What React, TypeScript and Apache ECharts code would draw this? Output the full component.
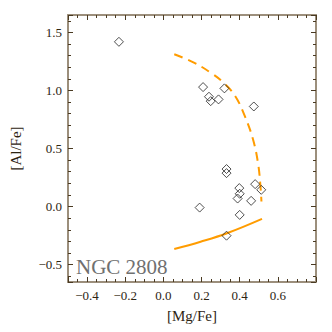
import React, { useEffect, useRef } from "react";
import * as echarts from "echarts";

const starMg = [-0.233, 0.208, 0.32, 0.239, 0.248, 0.289, 0.474, 0.331, 0.331, 0.398, 0.4, 0.389, 0.481, 0.513, 0.46, 0.19, 0.4, 0.331];
const starAl = [1.419, 1.029, 1.018, 0.946, 0.908, 0.923, 0.862, 0.323, 0.288, 0.159, 0.11, 0.069, 0.193, 0.144, 0.049, -0.009, -0.072, -0.251];

const dashedMg = [0.057, 0.16, 0.247, 0.315, 0.376, 0.427, 0.47, 0.496, 0.509, 0.514];
const dashedAl = [1.312, 1.24, 1.154, 1.067, 0.952, 0.779, 0.577, 0.375, 0.173, 0.043];

const solidMg = [0.057, 0.195, 0.333, 0.517];
const solidAl = [-0.366, -0.303, -0.23, -0.106];

const xLabels = ["-0.4", "-0.2", "0.0", "0.2", "0.4", "0.6"];
const yLabels = ["-0.5", "0.0", "0.5", "1.0", "1.5"];

const FRAME = "#9c8f7c";
const TICK = "#4a3a22";
const TEXT = "#2e2412";
const ORANGE = "#ff9c00";
const FONT = "'Liberation Serif', 'DejaVu Serif', serif";

export default function App() {
  const ref = useRef<HTMLDivElement>(null);
  useEffect(() => {
    if (!ref.current) return;
    const chart = echarts.init(ref.current, null, { renderer: "svg" });
    const fmt = (labels: string[]) => (v: number) => {
      const s = v.toFixed(1).replace("-0.0", "0.0");
      const ok = labels.includes(s) && Math.abs(v - parseFloat(s)) < 1e-6;
      return ok ? s.replace("-", "\u2212") : "";
    };
    const baseX = {
      type: "value" as const,
      min: -0.5,
      max: 0.8,
      splitNumber: 6,
      axisLine: { show: true, onZero: false, lineStyle: { color: FRAME, width: 2 } },
      axisTick: { show: true, inside: true, length: 5, lineStyle: { color: TICK, width: 1 } },
      minorTick: { show: true, splitNumber: 4, length: 3, lineStyle: { color: TICK, width: 1 } },
      splitLine: { show: false },
    };
    const baseY = {
      type: "value" as const,
      min: -0.65,
      max: 1.65,
      splitNumber: 5,
      axisLine: { show: true, onZero: false, lineStyle: { color: FRAME, width: 2 } },
      axisTick: { show: true, inside: true, length: 5, lineStyle: { color: TICK, width: 1 } },
      minorTick: { show: true, splitNumber: 5, length: 3, lineStyle: { color: TICK, width: 1 } },
      splitLine: { show: false },
    };
    chart.setOption({
      animation: false,
      backgroundColor: "#ffffff",
      grid: { left: 67, right: 16, top: 15, bottom: 50, containLabel: false },
      xAxis: [
        {
          ...baseX,
          position: "bottom",
          name: "[Mg/Fe]",
          nameLocation: "middle",
          nameGap: 26,
          nameTextStyle: { color: TEXT, fontFamily: FONT, fontSize: 15 },
          axisLabel: { show: true, color: TEXT, fontFamily: FONT, fontSize: 13, margin: 7, formatter: fmt(xLabels), showMinLabel: true, showMaxLabel: true },
        },
        { ...baseX, position: "top", axisLabel: { show: false } },
      ],
      yAxis: [
        {
          ...baseY,
          position: "left",
          name: "[Al/Fe]",
          nameLocation: "middle",
          nameGap: 45,
          nameTextStyle: { color: TEXT, fontFamily: FONT, fontSize: 15 },
          axisLabel: { show: true, color: TEXT, fontFamily: FONT, fontSize: 13, margin: 6, formatter: fmt(yLabels), showMinLabel: true, showMaxLabel: true },
        },
        { ...baseY, position: "right", axisLabel: { show: false } },
      ],
      graphic: [
        {
          type: "text",
          left: 76,
          top: 256,
          style: { text: "NGC 2808", fill: "#707070", font: `21px ${FONT}` },
        },
      ],
      series: [
        {
          type: "line",
          data: dashedMg.map((x, i) => [x, dashedAl[i]]),
          smooth: 0.4,
          showSymbol: false,
          lineStyle: { color: ORANGE, width: 2, type: [9, 6] },
          z: 2,
        },
        {
          type: "line",
          data: solidMg.map((x, i) => [x, solidAl[i]]),
          smooth: 0.4,
          showSymbol: false,
          lineStyle: { color: ORANGE, width: 2 },
          z: 2,
        },
        {
          type: "scatter",
          data: starMg.map((x, i) => [x, starAl[i]]),
          symbol: "diamond",
          symbolSize: 9,
          itemStyle: { color: "rgba(255,255,255,0)", borderColor: "#222222", borderWidth: 1 },
          z: 3,
        },
      ],
    });
    return () => chart.dispose();
  }, []);
  return <div ref={ref} style={{ width: 332, height: 332, position: "absolute", left: 0, top: 0 }} />;
}
